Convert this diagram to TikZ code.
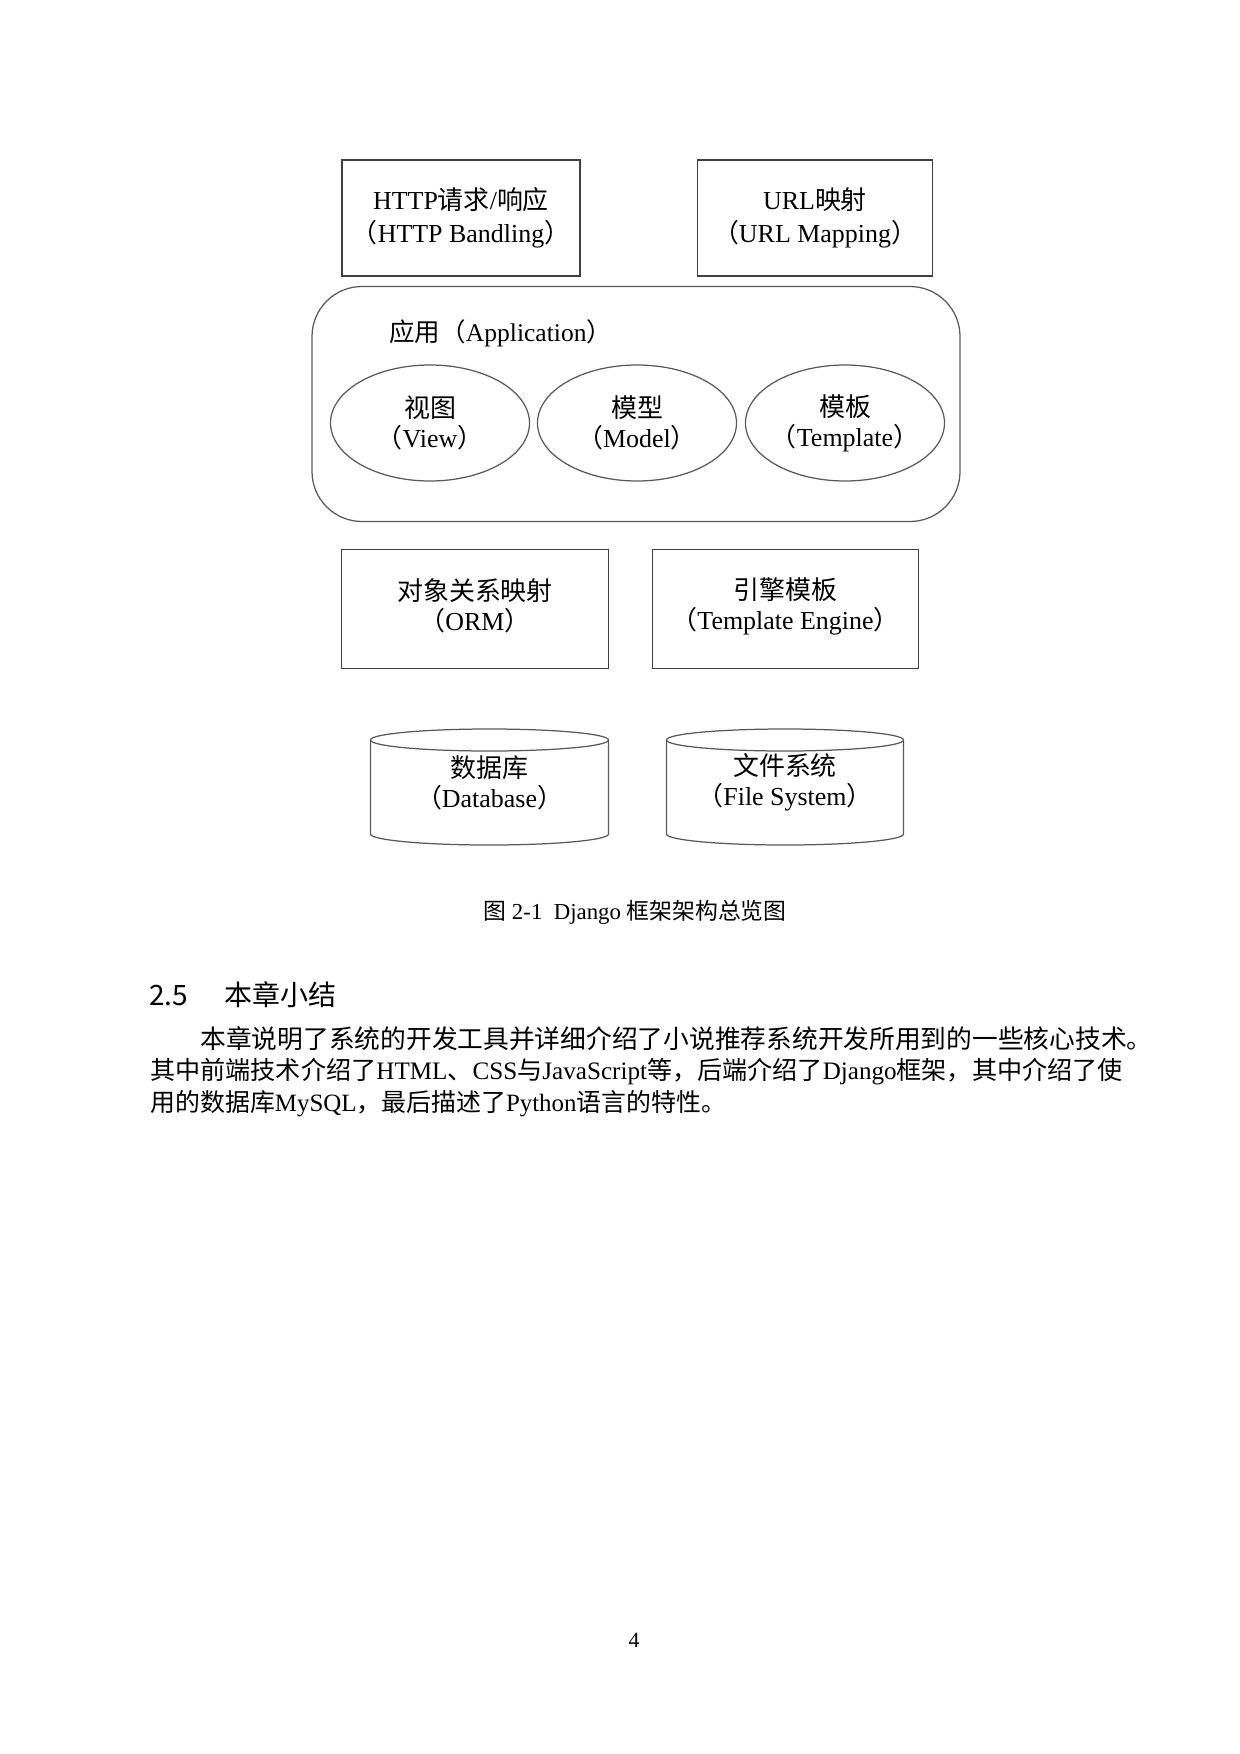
\documentclass[tikz,border=0pt]{standalone}
\usepackage{fontspec}
\setmainfont{Liberation Serif}
\newfontfamily\cjk{Noto Sans CJK SC}
\usetikzlibrary{calc}
\newlength\pu
\setlength\pu{0.16935mm}
\newcommand\zh[1]{{\cjk #1}}

\begin{document}
\begin{tikzpicture}[x=0.16935mm,y=-0.16935mm,
  part/.style={draw=black!75, line width=0.6pt, rectangle, align=center,
    font=\fontsize{12.5}{16}\selectfont},
  module/.style={inner sep=0pt, align=center, font=\fontsize{12.5}{14.5}\selectfont},
  outline/.style={draw=black!65, line width=0.6pt},
  body/.style={inner sep=0pt, anchor=west, font=\fontsize{12}{14}\selectfont}]
\useasboundingbox (0,0) rectangle (1240,1754);

\node[part, minimum width=238\pu, minimum height=116\pu] (http) at (461,218)
  {HTTP\zh{请求}/\zh{响应}\\\zh{（}HTTP Bandling\zh{）}};
\node[part, minimum width=235\pu, minimum height=116\pu] (url) at (815,218)
  {URL\zh{映射}\\\zh{（}URL Mapping\zh{）}};

\node[outline, rounded corners=50\pu,
  minimum width=648\pu, minimum height=235\pu] (app) at (636,404) {};
\node[body, font=\fontsize{12.3}{14}\selectfont] (applabel) at (389,333)
  {\zh{应用（}Application\zh{）}};

\node[module] (view) at (430,423) {\zh{视图}\\\zh{（}View\zh{）}};
\node[module] (model) at (637,423) {\zh{模型}\\\zh{（}Model\zh{）}};
\node[module] (tpl) at (845,423) {\zh{模板}\\\zh{（}Template\zh{）}};
\foreach \m in {view,model,tpl}
  \draw[outline] (\m.center) ellipse [x radius=99.5, y radius=58];

\node[part, minimum width=267\pu, minimum height=119\pu] (orm) at (475,609) {};
\node[module, yshift=1.4pt] (ormtext) at (orm) {\zh{对象关系映射}\\\zh{（}ORM\zh{）}};
\node[part, minimum width=266\pu, minimum height=119\pu] (engine) at (785.5,609) {};
\node[module, yshift=1.4pt] (enginetext) at (engine)
  {\zh{引擎模板}\\\zh{（}Template Engine\zh{）}};

% storage cylinders
\coordinate (dbc) at (489.5,787);
\coordinate (fsc) at (785,787);
\foreach \c/\w in {dbc/119,fsc/118.5}{
  \draw[outline] ($(\c)+(0,-47)$) ellipse [x radius=\w, y radius=11];
  \draw[outline] ($(\c)+(-\w,-47)$) -- ($(\c)+(-\w,47)$)
    arc [start angle=180, end angle=0, x radius=\w, y radius=11] -- ($(\c)+(\w,-47)$);
}
\node[module] (db) at ($(dbc)+(0,-4.5)$) {\zh{数据库}\\\zh{（}Database\zh{）}};
\node[module] (fs) at ($(fsc)+(0,-4.5)$) {\zh{文件系统}\\\zh{（}File System\zh{）}};

\node[inner sep=0pt, font=\fontsize{11}{12}\selectfont] (caption) at (635,912)
  {\zh{图} 2-1\ \ Django \zh{框架架构总览图}};

% summary text
\node[body, font=\fontsize{13.5}{16}\selectfont] (head) at (149,995)
  {\zh{2.5\hspace{1.3em}本章小结}};
\node[body, font=\fontsize{12.4}{14}\selectfont] (line1) at (200,1039)
  {\zh{本章说明了系统的开发工具并详细介绍了小说推荐系统开发所用到的一些核心技术。}};
\node[body, font=\fontsize{12.1}{14}\selectfont] (line2) at (150,1072)
  {\zh{其中前端技术介绍了}HTML\zh{、}CSS\zh{与}JavaScript\zh{等，后端介绍了}Django\zh{框架，其中介绍了使}};
\node[body] (line3) at (150,1104)
  {\zh{用的数据库}MySQL\zh{，最后描述了}Python\zh{语言的特性。}};

\node[inner sep=0pt, font=\fontsize{10.5}{12}\selectfont] (page) at (634,1640) {4};
\end{tikzpicture}
\end{document}
